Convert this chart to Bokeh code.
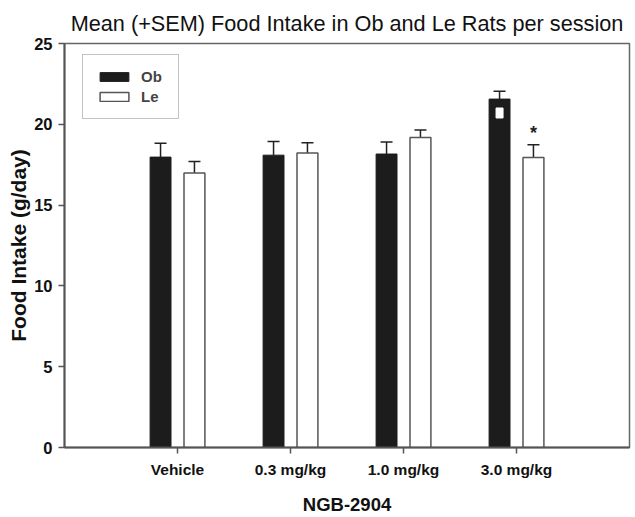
from bokeh.plotting import figure
from bokeh.models import ColumnDataSource, Whisker, TeeHead, Legend, LegendItem, FixedTicker, Range1d
from bokeh.transform import dodge
from bokeh.core.properties import value
from bokeh.embed import file_html
from bokeh.resources import INLINE

# ---- data ----
categories = ["Vehicle", "0.3 mg/kg", "1.0 mg/kg", "3.0 mg/kg"]
cat_pos = [1, 2, 3, 4]
ob_mean = [17.97, 18.09, 18.16, 21.56]
ob_sem = [0.85, 0.85, 0.74, 0.48]
le_mean = [16.98, 18.22, 19.19, 17.95]
le_sem = [0.72, 0.64, 0.45, 0.79]
sig_le = ["", "", "", "*"]
ob_mark_pos = [4]
ob_mark_val = [20.7]
y_ticks = [0, 5, 10, 15, 20, 25]

src = ColumnDataSource(dict(
    x=cat_pos, ob=ob_mean, le=le_mean,
    ob_up=[m + s for m, s in zip(ob_mean, ob_sem)],
    le_up=[m + s for m, s in zip(le_mean, le_sem)],
    sig=sig_le,
))
mark_src = ColumnDataSource(dict(x=ob_mark_pos, y=ob_mark_val))

FONT = "Liberation Sans"

p = figure(width=634, height=516, output_backend="svg", toolbar_location=None,
           x_range=Range1d(0, 5), y_range=Range1d(0, 25),
           min_border_left=64, min_border_right=5, min_border_top=42, min_border_bottom=70)
p.frame_width = 565
p.frame_height = 404

p.title.text = "Mean (+SEM) Food Intake in Ob and Le Rats per session"
p.title.text_font = FONT
p.title.text_font_size = "21.7px"
p.title.text_font_style = "normal"
p.title.text_color = "#111"
p.title.align = "center"
p.title.offset = 0
p.title.standoff = 16

ob_r = p.vbar(x=dodge("x", -0.15, range=p.x_range), top="ob", width=0.185, source=src,
              fill_color="#1c1c1c", line_color="#1c1c1c", line_width=1)
le_r = p.vbar(x=dodge("x", 0.15, range=p.x_range), top="le", width=0.185, source=src,
              fill_color="white", line_color="#555555", line_width=1.5)

for col_base, col_up, off in [("ob", "ob_up", -0.15), ("le", "le_up", 0.15)]:
    w = Whisker(base=dodge("x", off, range=p.x_range), lower=col_base, upper=col_up, source=src,
                line_color="#222", line_width=1.5,
                upper_head=TeeHead(size=12, line_color="#222", line_width=1.5), lower_head=None)
    p.add_layout(w)

p.rect(x=dodge("x", -0.15, range=p.x_range), y="y", width=7, height=10,
       width_units="screen", height_units="screen", source=mark_src,
       fill_color="white", line_color="white")

p.text(x=dodge("x", 0.15, range=p.x_range), y="le_up", text="sig", source=src,
       text_align="center", text_baseline="bottom", y_offset=-2,
       text_font=value(FONT), text_font_size="18px", text_font_style="bold", text_color="#222")

legend = Legend(items=[LegendItem(label="Ob", renderers=[ob_r]),
                       LegendItem(label="Le", renderers=[le_r])],
                location=(18, 328))
legend.label_text_font = FONT
legend.label_text_font_size = "15px"
legend.label_text_font_style = "bold"
legend.glyph_width = 36
legend.glyph_height = 11
legend.label_standoff = 9
legend.label_width = 24
legend.padding = 13
legend.spacing = 3
legend.margin = 0
legend.border_line_color = "#888"
legend.border_line_width = 1.5
p.add_layout(legend, "center")

p.xgrid.visible = False
p.ygrid.visible = False
p.outline_line_color = "#666"
p.outline_line_width = 1.5

for ax in (p.xaxis[0], p.yaxis[0]):
    ax.axis_line_color = "#555"
    ax.axis_line_width = 2
    ax.major_tick_line_color = "#555"
    ax.major_tick_line_width = 1.5
    ax.major_tick_in = 0
    ax.major_tick_out = 6
    ax.minor_tick_line_color = None
    ax.major_label_text_font = FONT
    ax.major_label_text_font_style = "bold"
    ax.major_label_text_color = "#111"
    ax.axis_label_text_font = FONT
    ax.axis_label_text_font_style = "bold"
    ax.axis_label_text_color = "#111"

p.xaxis.ticker = FixedTicker(ticks=cat_pos)
p.xaxis.major_label_overrides = {c: l for c, l in zip(cat_pos, categories)}
p.xaxis.major_label_text_font_size = "15.5px"
p.xaxis.major_label_standoff = 7
p.xaxis.axis_label = "NGB-2904"
p.xaxis.axis_label_text_font_size = "18.5px"
p.xaxis.axis_label_standoff = 13

p.yaxis.ticker = FixedTicker(ticks=y_ticks)
p.yaxis.major_label_text_font_size = "16.5px"
p.yaxis.major_label_standoff = 6
p.yaxis.axis_label = "Food Intake (g/day)"
p.yaxis.axis_label_text_font_size = "21px"
p.yaxis.axis_label_standoff = 1

open("out.html", "w").write(file_html(p, INLINE))
